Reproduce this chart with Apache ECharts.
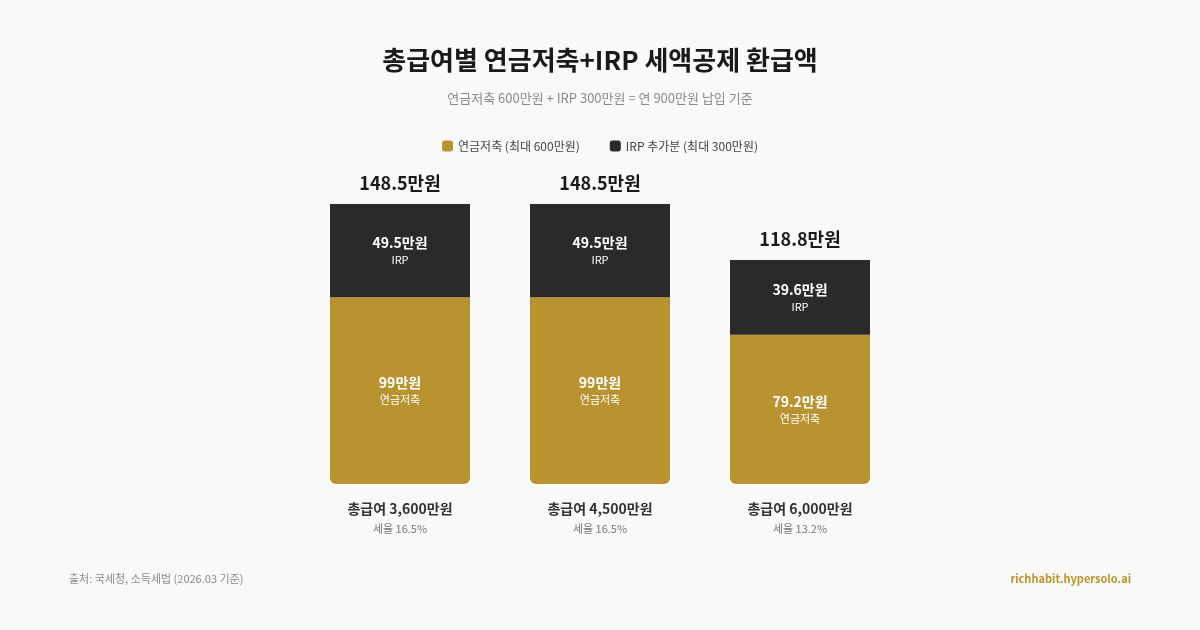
<!DOCTYPE html>
<html><head><meta charset="utf-8">
<script src="https://cdn.jsdelivr.net/npm/echarts@6/dist/echarts.min.js"></script>
<style>html,body{margin:0;padding:0;background:#f9f9f7}#c{width:1200px;height:630px}</style>
</head><body><div id="c"></div>
<script>
const categories = ['총급여 3,600만원', '총급여 4,500만원', '총급여 6,000만원'];
const taxRates = ['세율 16.5%', '세율 16.5%', '세율 13.2%'];
const pensionValues = [99, 99, 79.2];
const irpValues = [49.5, 49.5, 39.6];
const totals = [148.5, 148.5, 118.8];
const font = '"Noto Sans CJK KR", "Noto Sans", sans-serif';
const chart = echarts.init(document.getElementById('c'));
chart.setOption({
  backgroundColor: '#f9f9f7',
  textStyle: { fontFamily: font },
  title: [
    { text: '총급여별 연금저축+IRP 세액공제 환급액', left: 'center', top: 42,
      textStyle: { fontSize: 26, fontWeight: 'bold', color: '#1a1a1a', fontFamily: font } },
    { text: '연금저축 600만원 + IRP 300만원 = 연 900만원 납입 기준', left: 'center', top: 87,
      textStyle: { fontSize: 13, fontWeight: 'normal', color: '#8a8a8a', fontFamily: font } },
    { text: '출처: 국세청, 소득세법 (2026.03 기준)', left: 64, top: 568,
      textStyle: { fontSize: 11, fontWeight: 'normal', color: '#8a8a8a', fontFamily: font } },
    { text: 'richhabit.hypersolo.ai', right: 64, top: 568,
      textStyle: { fontSize: 11, fontWeight: 'bold', color: '#b8932f', fontFamily: font } }
  ],
  legend: {
    top: 135, left: 'center', itemWidth: 11, itemHeight: 11, itemGap: 30, icon: 'roundRect',
    textStyle: { fontSize: 12, color: '#444', fontFamily: font },
    data: ['연금저축 (최대 600만원)', 'IRP 추가분 (최대 300만원)']
  },
  grid: { left: 300, right: 300, top: 204, bottom: 146 },
  xAxis: {
    type: 'category', data: categories,
    axisLine: { show: false }, axisTick: { show: false },
    axisLabel: {
      margin: 14,
      formatter: (v, i) => '{a|' + v + '}\n{b|' + taxRates[i] + '}',
      rich: {
        a: { fontSize: 14, fontWeight: 'bold', color: '#333', lineHeight: 22, fontFamily: font },
        b: { fontSize: 11, color: '#777', lineHeight: 18, fontFamily: font }
      }
    }
  },
  yAxis: { type: 'value', min: 0, max: 148.5, show: false, splitLine: { show: false } },
  series: [
    {
      name: '연금저축 (최대 600만원)', type: 'bar', stack: 't', barWidth: 140,
      data: pensionValues,
      itemStyle: { color: '#b8932f', borderRadius: [0, 0, 6, 6] },
      label: {
        show: true, position: 'inside',
        formatter: p => '{v|' + p.value + '만원}\n{n|연금저축}',
        rich: {
          v: { fontSize: 14, fontWeight: 'bold', color: '#fff', lineHeight: 18, fontFamily: font },
          n: { fontSize: 11, color: '#fff', lineHeight: 16, fontFamily: font }
        }
      }
    },
    {
      name: 'IRP 추가분 (최대 300만원)', type: 'bar', stack: 't', barWidth: 140,
      data: irpValues,
      itemStyle: { color: '#2a2a2a' },
      label: {
        show: true, position: 'inside',
        formatter: p => '{v|' + p.value + '만원}\n{n|IRP}',
        rich: {
          v: { fontSize: 14, fontWeight: 'bold', color: '#fff', lineHeight: 18, fontFamily: font },
          n: { fontSize: 11, color: '#fff', lineHeight: 16, fontFamily: font }
        }
      }
    },
    {
      name: 'total', type: 'bar', stack: 't', barWidth: 140,
      data: totals.map(() => 0), itemStyle: { color: 'transparent' },
      label: {
        show: true, position: 'top', distance: 12,
        formatter: p => totals[p.dataIndex] + '만원',
        fontSize: 18, fontWeight: 'bold', color: '#1a1a1a', fontFamily: font
      }
    }
  ]
});
</script></body></html>
